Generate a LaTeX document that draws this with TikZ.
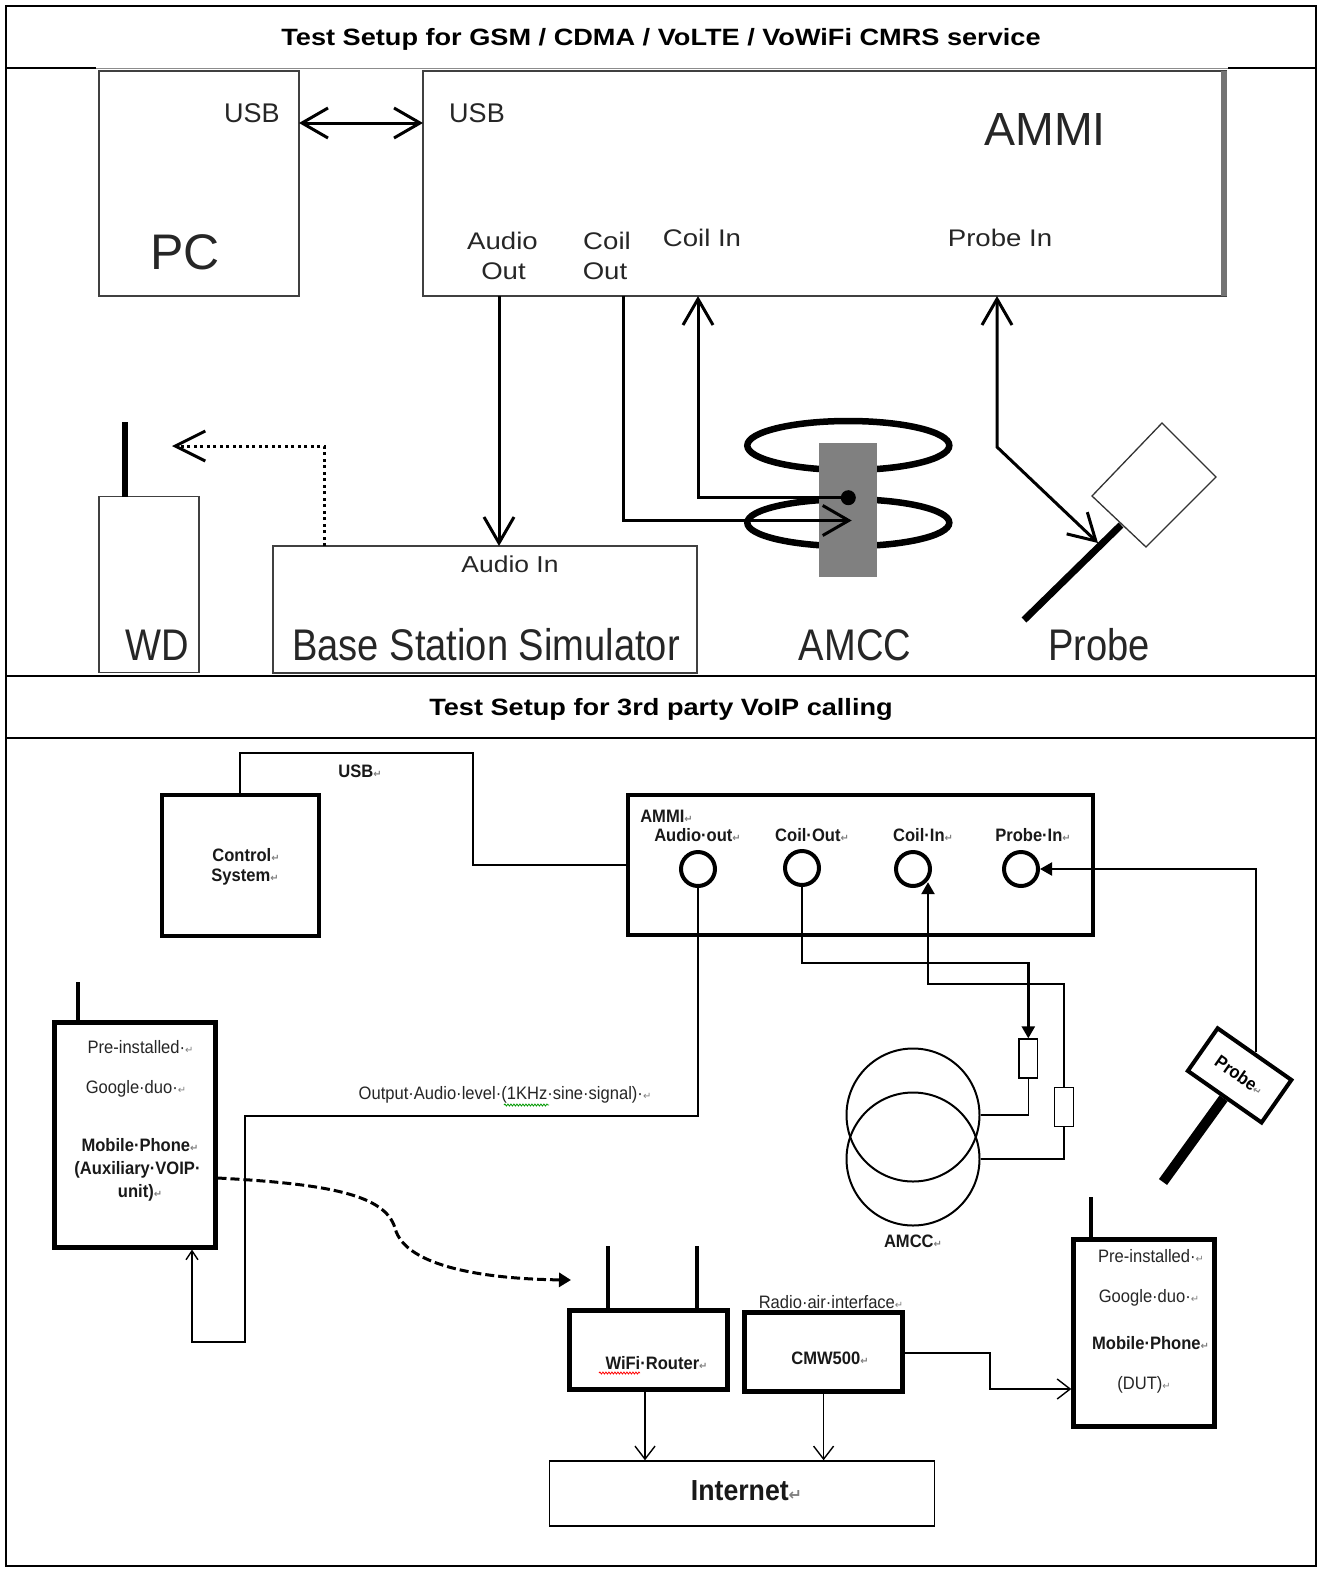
\documentclass[tikz,border=0pt]{standalone}
\usepackage{fontspec}
\setmainfont{Liberation Sans}
\newfontfamily\ttlf[FakeStretch=1.15]{Liberation Sans}
\newfontfamily\bigf[FakeStretch=0.86]{Liberation Sans}
\newfontfamily\smf[FakeStretch=1.15]{Liberation Sans}
\newfontfamily\lowf[FakeStretch=0.92]{Liberation Sans}
\newfontfamily\djv{DejaVu Sans}
\usetikzlibrary{arrows.meta,decorations.pathmorphing,shapes.geometric}
\newcommand\retm{{\djv\color{black!50}\scalebox{0.55}{↵}}}
\newcommand\fsz[1]{\fontsize{#1}{#1}\selectfont}
\tikzset{
  tbl/.style={line width=2.5pt},
  tbox/.style={draw=black!75, line width=1.4pt, rectangle, inner sep=0pt, outer sep=0pt},
  bigvee/.style={-{Straight Barb[length=26pt,width=30pt]}},
  bothvee/.style={{Straight Barb[length=26pt,width=30pt]}-{Straight Barb[length=26pt,width=30pt]}},
  topline/.style={line width=3pt},
  ttl/.style={font=\ttlf\bfseries\fsz{23.6}, anchor=base, inner sep=0pt},
  lblA/.style={font=\fsz{27}, text=black!85, anchor=base, inner sep=0pt},
  lblS/.style={font=\smf\fsz{24}, text=black!85, anchor=base, inner sep=0pt},
  lblB/.style={font=\bigf\fsz{44.3}, text=black!85, anchor=base, inner sep=0pt},
  bbox/.style={draw, line width=4.5pt, rectangle, inner sep=0pt},
  port/.style={draw, circle, line width=4pt, minimum size=34pt, inner sep=0pt},
  wire/.style={line width=1.4pt},
  lt/.style={font=\lowf\fsz{18}, text=black!85, inner sep=0pt},
  ltb/.style={font=\lowf\bfseries\fsz{18}, text=black!90, inner sep=0pt},
  fillarrow/.style={-{Triangle[length=12pt,width=13pt]}},
  smallvee/.style={-{Straight Barb[length=13pt,width=20pt]}},
  tinyvee/.style={-{Straight Barb[length=9pt,width=12pt]}},
  res/.style={draw, line width=1.3pt, minimum width=18.5pt, minimum height=39pt, inner sep=0pt},
  squig/.style={line width=0.8pt, decorate, decoration={snake, amplitude=1pt, segment length=3pt}},
}
\begin{document}
\begin{tikzpicture}[x=1pt,y=-1pt]
\useasboundingbox (0,0) rectangle (1320,1571);
\fill[white] (0,0) rectangle (1320,1571);

% ---------------- titles ----------------
\node[ttl] (title1) at (661,45.5) {Test Setup for GSM / CDMA / VoLTE / VoWiFi CMRS service};
\node[ttl] (title2) at (661,715.5) {Test Setup for 3rd party VoIP calling};

% ---------------- top diagram ----------------
\node[tbox, minimum width=200pt, minimum height=225pt] (pc) at (199,183.5) {};
\node[tbox, minimum width=803pt, minimum height=225pt] (ammi) at (824.5,183.5) {};
\draw[black!55, line width=6pt] ([xshift=-2pt]ammi.north east) -- ([xshift=-2pt]ammi.south east);
\node[tbox, minimum width=424pt, minimum height=127pt] (bss) at (485,609.5) {};
\node[tbox, minimum width=100pt, minimum height=176pt] (wd) at (149,584.5) {};
\coordinate (ant1) at (125,422);
\draw[line width=6pt] (wd.north -| ant1) -- (ant1);

\node[lblA] (usbpc) at (252,122.7) {USB};
\node[lblA] (usbam) at (477,122.7) {USB};
\node[lblA, font=\fsz{50}] (pclbl) at (185,269.3) {PC};
\node[lblA, font=\fsz{46.5}] (ammilbl) at (1045,145) {AMMI};
\node[lblS] (ao1) at (502.5,249) {Audio};
\node[lblS] (ao2) at (503.5,279.3) {Out};
\node[lblS] (co1l) at (607,249) {Coil};
\node[lblS] (co2l) at (605,279.3) {Out};
\node[lblS] (cil) at (702,246.7) {Coil In};
\node[lblS] (pil) at (1000,246.7) {Probe In};
\node[lblS, font=\smf\fsz{23}] (ail) at (510,572.7) {Audio In};
\node[lblB] (bsslbl) at (486,660) {Base Station Simulator};
\node[lblB] (wdlbl) at (157,660) {WD};
\node[lblB] (amcclbl) at (855,660) {AMCC};
\node[lblB] (probelbl) at (1099,660) {Probe};

\coordinate (rowUSB) at (0,123);
\draw[topline, bothvee] (pc.east |- rowUSB) -- (ammi.west |- rowUSB);

\coordinate (xAO) at (499,0);
\coordinate (xCO) at (623,0);
\coordinate (xCI) at (698,0);
\draw[topline, bigvee] (ammi.south -| xAO) -- (bss.north -| xAO);

% AMCC coil
\node[draw, ellipse, line width=6.5pt, minimum width=202pt, minimum height=49pt, inner sep=0pt] (coilU) at (848.3,445.5) {};
\node[draw, ellipse, line width=6.5pt, minimum width=202pt, minimum height=47pt, inner sep=0pt] (coilL) at (848.3,522.7) {};
\node[fill=black!50, minimum width=58pt, minimum height=134.6pt, inner sep=0pt] (core) at (848.3,510) {};
\node[circle, fill=black, minimum size=15pt, inner sep=0pt] (dot) at (848.3,497.7) {};
\coordinate (coTip) at (851.7,520.5);
\draw[topline, bigvee] (ammi.south -| xCO) |- (coTip);
\draw[topline, bigvee] (dot.center) -| (ammi.south -| xCI);

% probe
\draw[line width=7pt] (1024,620) -- (1121,525);
\draw[line width=1.3pt, draw=black!80] (1162,423) -- (1216,477) -- (1146,547) -- (1092,496) -- cycle;
\coordinate (pBend) at (997,447);
\coordinate (pTip) at (1098,543);
\draw[topline, bothvee] (ammi.south -| pBend) -- (pBend) -- (pTip);

% dotted radio link
\coordinate (dTip) at (172,446);
\coordinate (xDot) at (324,0);
\draw[line width=3pt, dash pattern=on 3pt off 3.5pt, -{Straight Barb[length=30pt,width=30pt]}] (bss.north -| xDot) |- (dTip);

% ---------------- bottom diagram ----------------
\node[bbox, line width=4pt, minimum width=157pt, minimum height=141pt] (ctrl) at (240,865.5) {};
\node[ltb] (ctrl1) at (246,855) {Control\retm};
\node[ltb] (ctrl2) at (245,876.7) {System\retm};
\node[bbox, minimum width=465pt, minimum height=140pt] (ammi2) at (860.5,865) {};
\coordinate (usbB) at (473,753);
\draw[wire] (ctrl.north) |- (usbB) |- (ammi2.west);
\node[ltb] (usb2) at (360,771.7) {USB\retm};

\node[ltb] (lAMMI) at (666.5,816) {AMMI\retm};
\node[ltb] (lAO) at (697.5,835) {Audio·out\retm};
\node[ltb] (lCO) at (812,835) {Coil·Out\retm};
\node[ltb] (lCI) at (923,835) {Coil·In\retm};
\node[ltb] (lPI) at (1033,835) {Probe·In\retm};
\node[port] (pAO) at (698,869) {};
\node[port] (pCO) at (802,868) {};
\node[port] (pCI) at (913,869) {};
\node[port] (pPI) at (1021,869) {};

% auxiliary phone
\node[bbox, line width=5pt, minimum width=160.5pt, minimum height=225pt] (mob) at (134.75,1134.5) {};
\coordinate (mant) at (78,982);
\draw[line width=4pt] (mob.north -| mant) -- (mant);
\node[lt] (m1) at (140.5,1046.7) {Pre-installed·\retm};
\node[lt] (m2) at (136,1089) {Google·duo·\retm};
\node[ltb] (m3) at (140,1145) {Mobile·Phone\retm};
\node[ltb] (m4) at (137.5,1170) {(Auxiliary·VOIP·};
\node[ltb] (m5) at (140,1192.7) {unit)\retm};

% audio out wire
\coordinate (a1) at (245,1116);
\coordinate (a2) at (192,1342);
\draw[wire, tinyvee] (pAO.south) |- (a1) |- (a2) -- (mob.south -| a2);
\node[lt] (outlbl) at (505,1095) {Output·Audio·level·(1KHz·sine·signal)·\retm};
\draw[squig, green!60!black] (504,1105) -- (549,1105);

% AMCC
\node[draw, circle, line width=2pt, minimum size=133pt, inner sep=0pt] (amU) at (913,1115) {};
\node[draw, circle, line width=2pt, minimum size=133pt, inner sep=0pt] (amL) at (913,1159) {};
\node[ltb] (lAMCC) at (913,1241) {AMCC\retm};
\node[res] (r1) at (1028.3,1058.5) {};
\node[res] (r2) at (1064,1107.3) {};
\coordinate (c1) at (1028.3,963);
\draw[line width=2.5pt, fillarrow] (pCO.south) |- (c1) -- (r1.north);
\draw[wire] (r1.south) |- (amU.east);
\coordinate (c2) at (928,984);
\draw[line width=2.5pt, fillarrow] (r2.north) |- (c2) -- (c2 |- pCI.-44);
\draw[wire] (r2.south) |- (amL.east);

% probe
\node[draw, line width=4pt, minimum width=90pt, minimum height=52pt, rotate=-35, inner sep=0pt, font=\lowf\bfseries\fsz{18}] (pb) at (1239.6,1075.4) {Probe\retm};
\coordinate (stk) at (1163,1182);
\draw[line width=10pt] (pb.south) -- (stk);
\draw[line width=2pt, fillarrow] (pb.north) |- (pPI.east);

% dashed wifi link
\coordinate (dsy) at (0,1178);
\coordinate (dE) at (571,1280);
\draw[line width=3pt, dash pattern=on 9pt off 4pt, -{Triangle[length=12pt,width=14pt]}] (mob.east |- dsy) .. controls (330,1184) and (385,1195) .. (395,1228) .. controls (405,1268) and (490,1279) .. (dE);

% router, CMW500, internet
\node[bbox, line width=5pt, minimum width=158pt, minimum height=79pt] (wifi) at (648.6,1350.4) {};
\coordinate (wa1) at (608,1246);
\coordinate (wa2) at (697,1246);
\draw[line width=4pt] (wifi.north -| wa1) -- (wa1);
\draw[line width=4pt] (wifi.north -| wa2) -- (wa2);
\node[ltb] (lwifi) at (656.5,1363) {WiFi·Router\retm};
\draw[squig, red] (599,1373) -- (640,1373);
\node[bbox, line width=5pt, minimum width=158pt, minimum height=79pt] (cmw) at (823.6,1352.2) {};
\node[ltb] (lcmw) at (830,1358) {CMW500\retm};
\node[lt] (lradio) at (831,1301.7) {Radio·air·interface\retm};
\node[draw, line width=1.5pt, minimum width=385pt, minimum height=65pt, inner sep=0pt] (inet) at (742.2,1493.5) {};
\node[ltb, font=\lowf\bfseries\fsz{29}] (linet) at (746.5,1490.7) {Internet\retm};
\coordinate (xw) at (645,0);
\coordinate (xc) at (823.6,0);
\draw[wire, smallvee] (wifi.south -| xw) -- (inet.north -| xw);
\draw[wire, smallvee] (cmw.south -| xc) -- (inet.north -| xc);

% DUT
\node[bbox, line width=5pt, minimum width=141pt, minimum height=187pt] (dut) at (1144.3,1333.4) {};
\coordinate (da) at (1091,1197);
\draw[line width=4pt] (dut.north -| da) -- (da);
\node[lt] (d1) at (1151,1256) {Pre-installed·\retm};
\node[lt] (d2) at (1149,1298) {Google·duo·\retm};
\node[ltb] (d3) at (1150.5,1343) {Mobile·Phone\retm};
\node[lt] (d4) at (1144,1385) {(DUT)\retm};
\coordinate (cd1) at (990,1353);
\coordinate (cd2) at (990,1389);
\draw[wire, smallvee] (cmw.east |- cd1) -- (cd1) -- (cd2) -- (dut.west |- cd2);

% ---------------- table ----------------
\draw[tbl] (6,6) rectangle (1316,1566);
\draw[tbl] (6,68) -- (96,68);
\draw[tbl] (1228,68) -- (1316,68);
\draw[black!45, line width=1pt] (96,68.5) -- (1228,68.5);
\draw[tbl] (6,676) -- (1316,676);
\draw[line width=1.6pt] (6,738) -- (1316,738);
\end{tikzpicture}
\end{document}
